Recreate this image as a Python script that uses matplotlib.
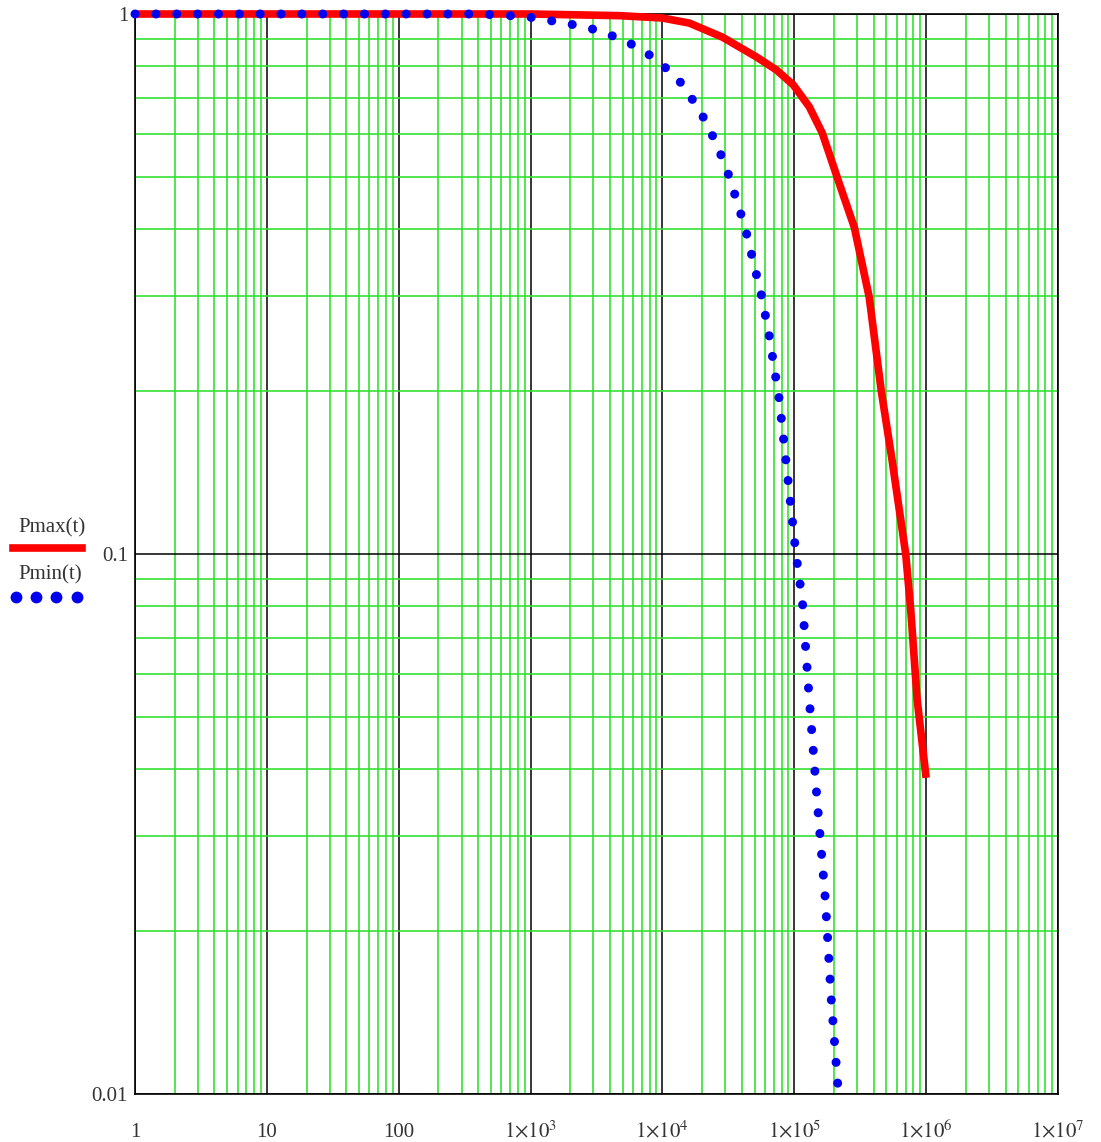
#!/usr/bin/env python3
"""Pmax(t) / Pmin(t) log-log plot, redrawn in the look of a Mathcad graph."""

from __future__ import annotations

import matplotlib

matplotlib.use("Agg")
import matplotlib.pyplot as plt
from matplotlib.lines import Line2D
from matplotlib.ticker import LogLocator, NullFormatter

# Values
t_max = [1, 1e3, 4.7e3, 1e4, 1.6e4, 2.85e4, 5.15e4, 7.31e4, 9.83e4, 1.3e5,
         1.63e5, 2.19e5, 2.85e5, 3.7e5, 4.56e5, 5.52e5, 7.0e5, 7.64e5,
         8.55e5, 1.0e6]
p_max = [1.0, 1.0, 0.993, 0.983, 0.962, 0.906, 0.833, 0.788, 0.739, 0.673,
         0.602, 0.486, 0.403, 0.299, 0.201, 0.149, 0.1, 0.0788,
         0.0537, 0.0385]

t_min = [1, 400, 900, 1.32e3, 2.66e3, 5.15e3, 9.0e3, 1.35e4, 1.91e4, 2.6e4,
         3.22e4, 4.25e4, 5.62e4, 6.35e4, 7.7e4, 1.03e5, 1.15e5, 1.30e5,
         1.49e5, 1.72e5, 1.91e5, 2.15e5]
p_min = [1.0, 1.0, 0.99, 0.975, 0.946, 0.895, 0.825, 0.751, 0.665, 0.572,
         0.499, 0.401, 0.302, 0.26, 0.193, 0.1, 0.0822, 0.0537,
         0.035, 0.0229, 0.0149, 0.0102]

x_ticks = [1, 10, 100, 1e3, 1e4, 1e5, 1e6, 1e7]
x_labels = ["1", "10", "100", r"$1{\times}10^{3}$", r"$1{\times}10^{4}$",
            r"$1{\times}10^{5}$", r"$1{\times}10^{6}$", r"$1{\times}10^{7}$"]
y_ticks = [0.01, 0.1, 1]
y_labels = ["0.01", "0.1", "1"]

GREEN = "#33e033"
TEXT = "#333333"
W, H = 1101, 1142


def main() -> None:
    plt.rcParams["font.family"] = ["Liberation Serif", "DejaVu Serif"]
    plt.rcParams["mathtext.fontset"] = "stix"

    fig = plt.figure(figsize=(W / 100, H / 100), dpi=100)
    left, right, top, bottom = 135, 1058, 14, 1094
    ax = fig.add_axes([left / W, 1 - bottom / H, (right - left) / W, (bottom - top) / H])

    ax.set_xscale("log")
    ax.set_yscale("log")
    ax.set_xlim(1, 1e7)
    ax.set_ylim(0.01, 1)

    ax.set_xticks(x_ticks, x_labels, va="baseline")
    ax.set_yticks(y_ticks, y_labels)
    ax.xaxis.set_minor_locator(LogLocator(base=10, subs=range(2, 10)))
    ax.yaxis.set_minor_locator(LogLocator(base=10, subs=range(2, 10)))
    ax.xaxis.set_minor_formatter(NullFormatter())
    ax.yaxis.set_minor_formatter(NullFormatter())
    ax.tick_params(which="both", length=0, labelsize=15, colors=TEXT)
    ax.tick_params(axis="x", pad=31)
    ax.tick_params(axis="y", pad=5)

    ax.set_axisbelow(True)
    ax.grid(which="minor", color=GREEN, linewidth=1.2)
    ax.grid(which="major", color="black", linewidth=1.1)
    for sp in ax.spines.values():
        sp.set_color("black")
        sp.set_linewidth(1.2)

    ax.plot(t_max, p_max, color="#ff0000", linewidth=5.5, solid_capstyle="butt",
            solid_joinstyle="round", clip_on=False, zorder=3)
    ax.plot(t_min, p_min, color="#0000ee", linewidth=6.5,
            linestyle=(0, (0.01, 2.3)), dash_capstyle="round",
            clip_on=False, zorder=4)

    # legend block on the left, Mathcad style
    fig.text(52 / W, 1 - 528 / H, "Pmax(t)", ha="center", va="center",
             fontsize=15, color=TEXT)
    fig.add_artist(Line2D([13 / W, 82 / W], [1 - 548 / H, 1 - 548 / H],
                          color="#ff0000", linewidth=5.5, transform=fig.transFigure))
    fig.text(50 / W, 1 - 575 / H, "Pmin(t)", ha="center", va="center",
             fontsize=15, color=TEXT)
    dots_x = [16 / W, 36 / W, 56 / W, 77 / W]
    fig.add_artist(Line2D(dots_x, [1 - 597 / H] * 4, color="#0000ee",
                          linestyle="none", marker="o", markersize=7.5,
                          transform=fig.transFigure))

    fig.savefig("out.png", dpi=100, facecolor="white")


if __name__ == "__main__":
    main()
